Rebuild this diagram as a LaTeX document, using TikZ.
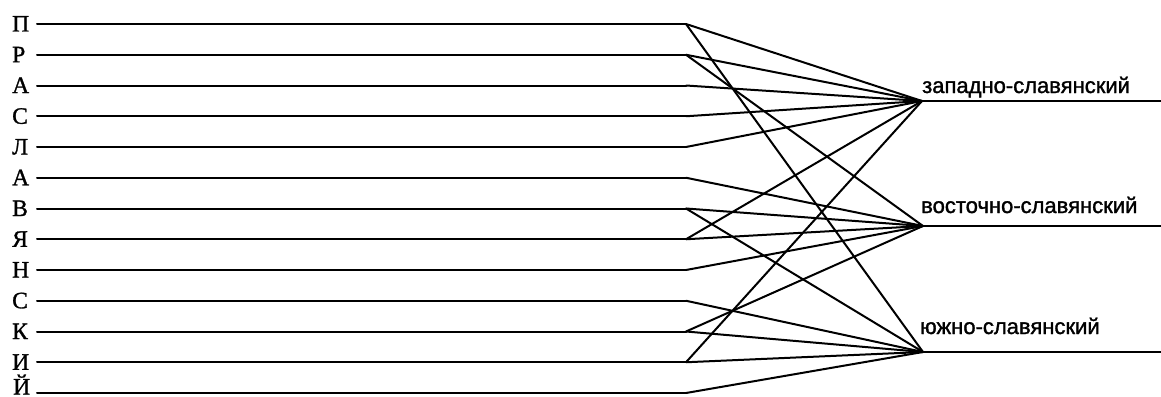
\documentclass[tikz,border=0pt]{standalone}
\usepackage{fontspec}
\setmainfont{Liberation Serif}
\newfontfamily\letfont[FakeBold=1.2]{Liberation Serif}
\newfontfamily\labfont[FakeBold=1.4]{Liberation Sans}
\begin{document}
\begin{tikzpicture}[x=1pt,y=-1pt,
  wire/.style={line width=2pt,line join=round,line cap=round},
  letter/.style={anchor=base west,inner sep=0pt,font=\letfont\fontsize{23.5}{23.5}\selectfont},
  branchlabel/.style={anchor=base west,inner sep=0pt,font=\labfont\fontsize{22}{22}\selectfont}]
\useasboundingbox (0,0) rectangle (1161,396);
% convergence points
\coordinate (Z) at (922,101);
\coordinate (V) at (923,226);
\coordinate (S) at (923,352);
\coordinate (Zr) at (1161,101);
\coordinate (Vr) at (1161,226);
\coordinate (Sr) at (1161,352);
% letters and their lines
\foreach \l [count=\i from 0] in {П,Р,А,С,Л,А,В,Я,Н,С,К,И} {
  \pgfmathsetmacro{\yy}{24+30.75*\i}
  \node[letter] (L\i) at (12,\yy+7.5) {\l};
  \coordinate (s\i) at (37,\yy);
  \coordinate (e\i) at (686,\yy);
}
\node[letter] (L12) at (13,394.5) {Й};
\coordinate (s12) at (37,393);
\coordinate (e12) at (686,393);
\foreach \i in {0,...,12} { \draw[wire] (s\i) -- (e\i); }
% to west
\foreach \i in {0,1,2,3,4,7,11} { \draw[wire] (e\i) -- (Z); }
% to east
\foreach \i in {1,5,6,7,8,10} { \draw[wire] (e\i) -- (V); }
% to south
\foreach \i in {0,6,9,10,11,12} { \draw[wire] (e\i) -- (S); }
% outgoing lines
\draw[wire] (Z) -- (Zr);
\draw[wire] (V) -- (Vr);
\draw[wire] (S) -- (Sr);
% labels
\node[branchlabel] (tZ) at (922,93) {западно-славянский};
\node[branchlabel] (tV) at (921,213) {восточно-славянский};
\node[branchlabel] (tS) at (920,334) {южно-славянский};
\end{tikzpicture}
\end{document}
